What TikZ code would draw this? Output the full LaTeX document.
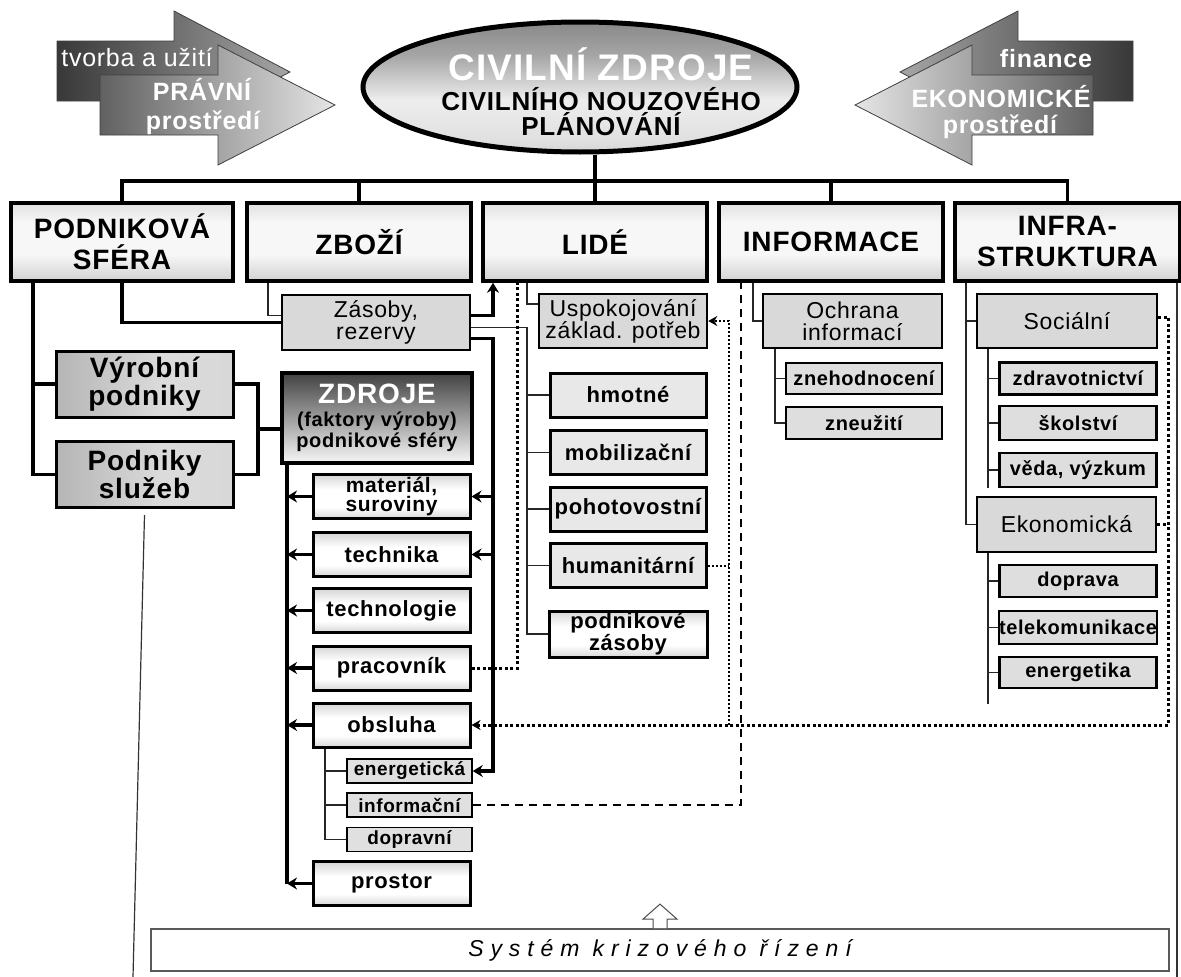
\documentclass[tikz,border=0pt]{standalone}
\usepackage{fontspec}
\setmainfont{Liberation Sans}[LetterSpace=3]
\newfontfamily\krizfont{Liberation Sans}[LetterSpace=30]
\usetikzlibrary{arrows.meta,shapes.geometric}
\newcommand\sizept[2]{\fontsize{#1pt}{#2pt}\selectfont}

% vertical shadings (0bp = bottom, 100bp = top)
\pgfdeclareverticalshading{topboxshade}{100bp}{color(0bp)=(black!40); color(42bp)=(black!3); color(62bp)=(black!3); color(100bp)=(black!28)}
\pgfdeclareverticalshading{factorshade}{100bp}{color(0bp)=(black!45); color(38bp)=(white); color(58bp)=(white); color(100bp)=(black!40)}
\pgfdeclareverticalshading{ellshade}{100bp}{color(0bp)=(black!35); color(30bp)=(black!12); color(45bp)=(black!7); color(62bp)=(black!35); color(100bp)=(black!68)}
\pgfdeclarehorizontalshading{groupshade}{100bp}{color(0bp)=(black!42); color(55bp)=(black!14); color(85bp)=(black!16); color(100bp)=(black!32)}

\begin{document}
\begin{tikzpicture}[x=1pt,y=-1pt,
  every node/.style={inner sep=0pt, align=center},
  % boxes
  topbox/.style={draw=black, line width=3.5pt, shade, shading=topboxshade,
    minimum width=224pt, minimum height=78pt, font=\bfseries\sizept{28}{31}},
  mainell/.style={ellipse, draw=black, line width=5pt, shade, shading=ellshade,
    minimum width=434pt, minimum height=130pt},
  groupbox/.style={draw=black, line width=3pt, shade, shading=groupshade,
    minimum width=177pt, minimum height=66pt, font=\bfseries\sizept{28}{28}},
  srcbox/.style={draw=black, line width=4pt, top color=black!74, bottom color=black!3,
    minimum width=190pt, minimum height=90pt, font=\bfseries\sizept{20}{21}},
  factor/.style={draw=black, line width=3pt, shade, shading=factorshade,
    minimum width=157pt, minimum height=44pt, font=\bfseries\sizept{22}{19}},
  dotbox/.style={draw=black, line width=2.5pt, fill=black!15, font=\sizept{23}{22}},
  peoplebox/.style={draw=black, line width=3pt, fill=black!9,
    minimum width=156pt, minimum height=44pt, font=\bfseries\sizept{22}{22}},
  subbox/.style={draw=black, line width=2.5pt, fill=black!13,
    minimum width=157pt, minimum height=32pt, font=\bfseries\sizept{20}{20}},
  minibox/.style={draw=black, line width=1.5pt, fill=black!12,
    minimum width=125pt, minimum height=24pt, font=\bfseries\sizept{19}{19}},
  krizbox/.style={draw=black!65, line width=1.8pt, fill=white,
    minimum width=1018pt, minimum height=42pt, font=\krizfont\itshape\sizept{23}{23}},
  arrowshape/.style={draw=black!75, line width=0.8pt},
  arrtxt/.style={text=white, anchor=base},
  % connectors
  heavy/.style={draw=black, line width=3.5pt},
  heavyarrow/.style={heavy, -{Stealth[length=10pt,width=12pt]}},
  light/.style={draw=black!85, line width=1.2pt},
  dotheavy/.style={draw=black, line width=3pt, dash pattern=on 3pt off 2.5pt},
  dotlight/.style={draw=black, line width=2pt, dash pattern=on 2pt off 2pt},
  dashline/.style={draw=black, line width=2.5pt, dash pattern=on 8pt off 6pt},
  dotarrow/.style={-{Stealth[length=9pt,width=10pt]}},
  frameline/.style={draw=black!80, line width=1.2pt}
]
\fill[white] (0,0) rectangle (1181,977);
\useasboundingbox (0,0) rectangle (1181,977);

% ---------- legal environment arrows (left) ----------
\path[arrowshape, left color=black!78, right color=black!35]
  (57,41) -- (174,41) -- (174,11) -- (290,72) -- (174,133) -- (174,101) -- (57,101) -- cycle;
\path[arrowshape, left color=black!62, right color=black!10]
  (100,75) -- (218,75) -- (218,45) -- (335,105) -- (218,165) -- (218,135) -- (100,135) -- cycle;
\node[arrtxt, font=\sizept{25}{25}] (tvorba) at (137,66) {tvorba a užití};
\node[arrtxt, font=\bfseries\sizept{25}{25}] (pravni) at (202,100) {PRÁVNÍ};
\node[arrtxt, font=\bfseries\sizept{25}{25}] (pravniB) at (203,129) {prostředí};

% ---------- economic environment arrows (right) ----------
\path[arrowshape, left color=black!35, right color=black!78]
  (1133,41) -- (1018,41) -- (1018,11) -- (900,72) -- (1018,133) -- (1018,101) -- (1133,101) -- cycle;
\path[arrowshape, left color=black!10, right color=black!62]
  (1093,75) -- (972,75) -- (972,45) -- (855,105) -- (972,165) -- (972,135) -- (1093,135) -- cycle;
\node[arrtxt, font=\bfseries\sizept{25}{25}] (finance) at (1046,67) {finance};
\node[arrtxt, font=\bfseries\sizept{25}{25}] (ekonom) at (1001,107) {EKONOMICKÉ};
\node[arrtxt, font=\bfseries\sizept{25}{25}] (ekonomB) at (1000,133) {prostředí};

% ---------- central ellipse ----------
\node[mainell] (civil) at (580,87) {};
\node[anchor=base, text=white, font=\bfseries\sizept{37}{37}] (civTitle) at (601,80) {CIVILNÍ ZDROJE};
\node[anchor=base, font=\bfseries\sizept{26}{26}] (civSub) at (601,110) {CIVILNÍHO NOUZOVÉHO};
\node[anchor=base, font=\bfseries\sizept{26}{26}] (civSubB) at (601,135) {PLÁNOVÁNÍ};

% ---------- top level ----------
\node[topbox, minimum width=222pt] (podn) at (122,242) {PODNIKOVÁ\\SFÉRA};
\node[topbox] (zbozi) at (359,242) {ZBOŽÍ};
\node[topbox] (lide) at (595,242) {LIDÉ};
\node[topbox] (info) at (831,242) {INFORMACE};
\node[topbox, minimum width=225pt] (infra) at (1067.5,242) {INFRA-\\STRUKTURA};

\coordinate (bar) at (0,181);
\draw[heavy] (civil.south -| lide.north) -- (lide.north);
\draw[heavy] (podn.north) |- (bar -| infra.north) -- (infra.north);
\draw[heavy] (bar -| zbozi.north) -- (zbozi.north);
\draw[heavy] (bar -| info.north) -- (info.north);

% ---------- enterprise sphere ----------
\node[groupbox] (vyrobni) at (144.5,384) {Výrobní\\podniky};
\node[groupbox] (sluzeb) at (144.5,474.5) {Podniky\\služeb};
\coordinate (xA) at (33,0);
\coordinate (xB) at (258,0);
\draw[heavy] (podn.south -| xA) |- (sluzeb.west);
\draw[heavy] (vyrobni.west -| xA) -- (vyrobni.west);
\draw[heavy] (vyrobni.east) -| (xB |- sluzeb.east) -- (sluzeb.east);

\node[srcbox] (zdroje) at (377,418)
  {{\color{white}\sizept{28}{28}ZDROJE}\\[2pt](faktory výroby)\\podnikové sféry};
\draw[heavy] ([yshift=-11pt]zdroje.west) -- ([yshift=-11pt]zdroje.west -| xB);

% production factors
\node[factor, font=\bfseries\sizept{21}{18}] (material) at (391.5,496.5) {materiál,\\suroviny};
\node[factor] (technika) at (391.5,554.5) {technika};
\node[factor] (technologie) at (391.5,610.5) {technologie};
\node[factor] (pracovnik) at (391.5,668) {pracovník};
\node[factor] (obsluha) at (391.5,725) {obsluha};
\node[minibox] (energ) at (409.5,771) {energetická};
\node[minibox] (informacni) at (409.5,805) {informační};
\node[minibox] (dopravni) at (409.5,839.5) {dopravní};
\node[factor] (prostor) at (391.5,883.5) {prostor};

\coordinate (xZ) at (287,0);
\draw[heavy] (zdroje.south -| xZ) -- (prostor.west -| xZ);
\foreach \b in {material,technika,technologie,pracovnik,obsluha,prostor}
  \draw[heavyarrow] (\b.west) -- (\b.west -| xZ);

\coordinate (xO) at (325,0);
\draw[light] (obsluha.south -| xO) |- (dopravni.west);
\draw[light] (xO |- energ.west) -- (energ.west);
\draw[light] (xO |- informacni.west) -- (informacni.west);

% ---------- goods ----------
\node[dotbox, minimum width=188pt, minimum height=55pt] (zasoby) at (376,322.5) {Zásoby,\\rezervy};
\coordinate (xZb) at (268,0);
\coordinate (xT) at (493,0);
\draw[light] (zbozi.south -| xZb) |- ([yshift=7pt]zasoby.west);
\draw[heavy] (podn.south) |- (zasoby.west);
\draw[heavyarrow] ([yshift=7pt]zasoby.east) -| (lide.south -| xT);
\draw[heavyarrow] ([yshift=-16pt]zasoby.east) -| (xT |- energ.east) -- (energ.east);
\draw[heavyarrow] (xT |- material.east) -- (material.east);
\draw[heavyarrow] (xT |- technika.east) -- (technika.east);

% ---------- people ----------
\node[dotbox, minimum width=168pt, minimum height=54pt] (uspok) at (623,321) {Uspokojování\\základ. potřeb};
\node[peoplebox] (hmotne) at (628,395) {hmotné};
\node[peoplebox] (mobil) at (628,452.5) {mobilizační};
\node[peoplebox] (pohot) at (628,509) {pohotovostní};
\node[peoplebox] (human) at (628,565.5) {humanitární};
\node[factor, minimum width=158pt, minimum height=46pt, font=\bfseries\sizept{22}{18}] (podzas) at (628,634) {podnikové\\zásoby};

\coordinate (xL) at (527,0);
\draw[light] (lide.south -| xL) |- ([yshift=17pt]uspok.west);
\draw[light] ([yshift=-5pt]zasoby.east) -| (xL |- podzas.west) -- (podzas.west);
\foreach \b in {hmotne,mobil,pohot,human}
  \draw[light] (xL |- \b.west) -- (\b.west);

\coordinate (xD) at (517,0);
\draw[dotheavy] (pracovnik.east) -| (lide.south -| xD);

\coordinate (xG) at (729,0);
\draw[dotlight, dotarrow] (xG |- obsluha.east) -- (xG |- uspok.east) -- (uspok.east);
\draw[dotlight] (human.east) -- (xG |- human.east);

% ---------- information ----------
\node[dotbox, minimum width=179pt, minimum height=54pt] (ochrana) at (852.5,321) {Ochrana\\informací};
\node[subbox, minimum width=156pt, minimum height=31pt] (znehod) at (864,378.5) {znehodnocení};
\node[subbox, minimum width=156pt, minimum height=32pt] (zneuz) at (864,423) {zneužití};
\coordinate (xI) at (753,0);
\coordinate (xJ) at (775,0);
\draw[light] (info.south -| xI) |- (ochrana.west);
\draw[light] (ochrana.south -| xJ) |- (zneuz.west);
\draw[light] (xJ |- znehod.west) -- (znehod.west);

\coordinate (xE) at (741,0);
\draw[dashline] (informacni.east) -| (info.south -| xE);

% ---------- infrastructure ----------
\node[dotbox, minimum width=180pt, minimum height=54pt] (social) at (1067,321) {Sociální};
\node[subbox] (zdrav) at (1078,378.5) {zdravotnictví};
\node[subbox, minimum height=34pt] (skol) at (1078,423) {školství};
\node[subbox, minimum height=34pt] (veda) at (1078,470) {věda, výzkum};
\node[dotbox, minimum width=179pt, minimum height=55pt] (ekon) at (1066.5,524.5) {Ekonomická};
\node[subbox] (doprava) at (1078,581) {doprava};
\node[subbox, minimum height=33pt] (telekom) at (1078,627.5) {telekomunikace};
\node[subbox, minimum height=31pt] (energetika) at (1078,672.5) {energetika};

\coordinate (xK) at (966,0);
\coordinate (xM) at (988,0);
\draw[light] (infra.south -| xK) |- (ekon.west);
\draw[light] (xK |- social.west) -- (social.west);
\draw[light] (social.south -| xM) -- (veda.south -| xM);
\foreach \b in {zdrav,skol,veda}
  \draw[light] (xM |- \b.west) -- (\b.west);
\draw[light] (ekon.south -| xM) -- (energetika.south -| xM) -- ++(0,15);
\foreach \b in {doprava,telekom,energetika}
  \draw[light] (xM |- \b.west) -- (\b.west);

\coordinate (xF) at (1168,0);
\draw[dotheavy, dotarrow] ([yshift=4pt]social.east) -| (xF |- obsluha.east) -- (obsluha.east);
\draw[dotheavy] (ekon.east) -- (xF |- ekon.east);

% ---------- crisis management frame ----------
\coordinate (frameBL) at (133,977);
\coordinate (frameBR) at (1177,977);
\draw[frameline] ([yshift=-6pt]sluzeb.south) -- (frameBL);
\draw[frameline] (infra.south -| frameBR) -- (frameBR);

\node[krizbox] (kriz) at (660,950) {Systém krizového řízení};
\draw[draw=black!70, fill=white, line width=1pt]
  ([xshift=-7pt]kriz.north) -- ++(0,-9) -- ++(-10,0) -- ++(17,-15) -- ++(17,15) -- ++(-10,0) -- ++(0,9);
\end{tikzpicture}
\end{document}
